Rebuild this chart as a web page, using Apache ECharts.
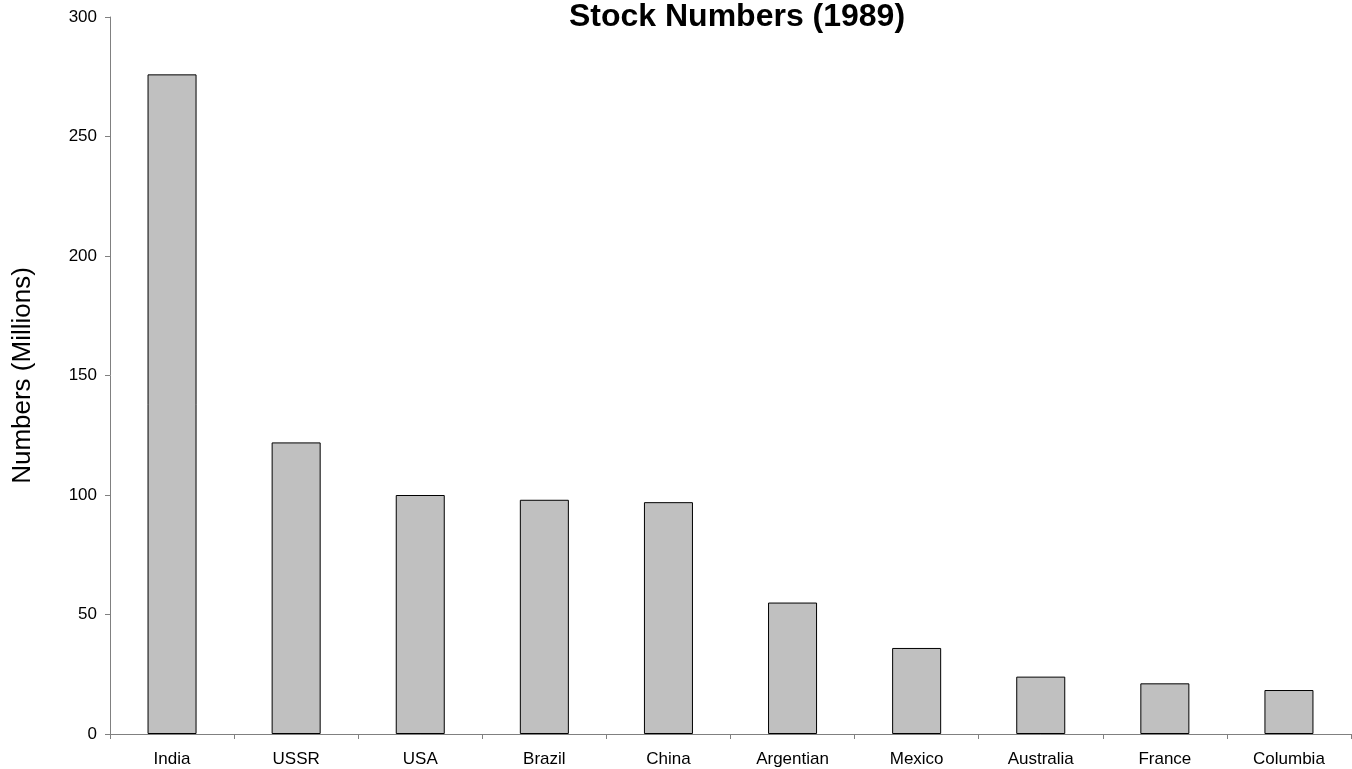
<!DOCTYPE html>
<html>
<head>
<meta charset="utf-8">
<script src="https://cdn.jsdelivr.net/npm/echarts@6/dist/echarts.min.js"></script>
<style>
  html, body { margin: 0; padding: 0; background: #ffffff; }
  #chart { width: 1352px; height: 769px; }
</style>
</head>
<body>
<div id="chart"></div>
<script>
// Livestock numbers by country, 1989 (millions)
const countries = ['India', 'USSR', 'USA', 'Brazil', 'China', 'Argentian', 'Mexico', 'Australia', 'France', 'Columbia'];
const stockMillions = [276, 122, 100, 98, 97, 55, 36, 24, 21.2, 18.4];
const yTicks = [0, 50, 100, 150, 200, 250, 300];

const FONT = '"Liberation Sans", Arial, sans-serif';
const chart = echarts.init(document.getElementById('chart'), null, { renderer: 'canvas' });

chart.setOption({
  backgroundColor: '#ffffff',
  animation: false,
  title: {
    text: 'Stock Numbers (1989)',
    left: 732,
    textAlign: 'center',
    top: -4,
    textStyle: { fontFamily: FONT, fontWeight: 'bold', fontSize: 32, color: '#000000' }
  },
  grid: { left: 110, right: 1, top: 17, bottom: 35, containLabel: false, outerBoundsMode: 'none' },
  xAxis: {
    type: 'category',
    data: countries,
    boundaryGap: true,
    axisLine: { show: true, lineStyle: { color: '#808080', width: 1 } },
    axisTick: { show: true, alignWithLabel: false, length: 5, lineStyle: { color: '#808080' } },
    axisLabel: { color: '#000000', fontFamily: FONT, fontSize: 17, margin: 17, interval: 0 },
    splitLine: { show: false }
  },
  yAxis: {
    type: 'value',
    min: yTicks[0],
    max: yTicks[yTicks.length - 1],
    interval: yTicks[1] - yTicks[0],
    name: 'Numbers (Millions)',
    nameLocation: 'middle',
    nameGap: 74,
    nameRotate: 90,
    nameTextStyle: { color: '#000000', fontFamily: FONT, fontSize: 26 },
    axisLine: { show: true, lineStyle: { color: '#808080', width: 1 } },
    axisTick: { show: true, length: 5, lineStyle: { color: '#808080' } },
    axisLabel: { color: '#000000', fontFamily: FONT, fontSize: 17, margin: 13 },
    splitLine: { show: false }
  },
  series: [{
    type: 'bar',
    data: stockMillions,
    barWidth: '39.5%',
    itemStyle: { color: '#c0c0c0', borderColor: '#000000', borderWidth: 1 },
    silent: true
  }]
});
</script>
</body>
</html>
